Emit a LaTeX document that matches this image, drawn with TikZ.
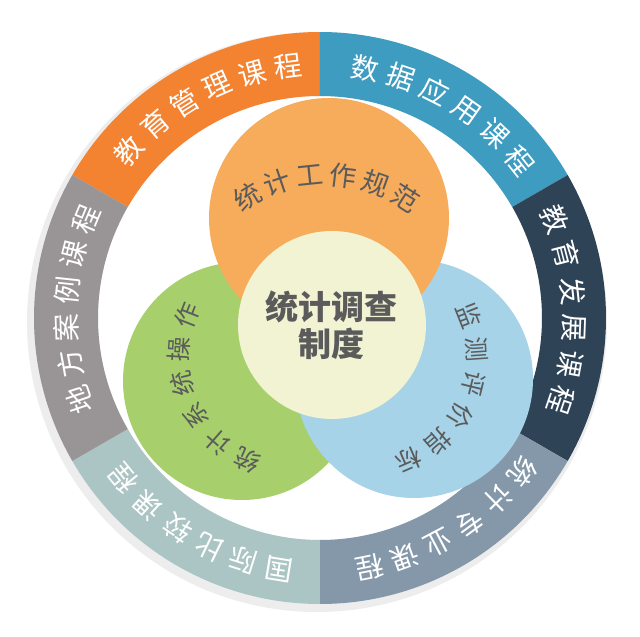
\documentclass[tikz,border=0pt]{standalone}
\usepackage{fontspec}
\newfontfamily\cjk{Noto Sans CJK SC}
\usetikzlibrary{calc}

\definecolor{ringorange}{HTML}{F38231}
\definecolor{ringblue}{HTML}{3E9CC1}
\definecolor{ringdark}{HTML}{2F4356}
\definecolor{ringslate}{HTML}{8498AA}
\definecolor{ringteal}{HTML}{ABC4C4}
\definecolor{ringgray}{HTML}{999596}
\definecolor{normfill}{HTML}{F7AC5C}
\definecolor{opsfill}{HTML}{A7D06D}
\definecolor{evalfill}{HTML}{A6D3E8}
\definecolor{corefill}{HTML}{F1F3D3}
\definecolor{inkgray}{HTML}{5B5B5B}

\begin{document}
\begin{tikzpicture}[x=1pt, y=1pt,
    ringtext/.style={text=white, font=\cjk\fontsize{28}{28}\selectfont, inner sep=0pt},
    innertext/.style={text=inkgray, font=\cjk\fontsize{27}{27}\selectfont, inner sep=0pt},
    sidetext/.style={innertext, font=\cjk\fontsize{25}{25}\selectfont},
    disc/.style={circle, inner sep=0pt, minimum size=238pt}
]
\useasboundingbox (-320,-319) rectangle (320,318);

% soft shadow and outer ring
\fill[black!7, even odd rule] (-3,-4) circle[radius=290pt] (0,0) circle[radius=222pt];
\foreach \s/\col in {90/ringorange, 30/ringblue, -30/ringdark, -90/ringslate, -150/ringteal, 150/ringgray}
  \fill[\col] (\s:286) arc[start angle=\s, delta angle=60, radius=286pt]
    -- ({\s+60}:222) arc[start angle=\s+60, delta angle=-60, radius=222pt] -- cycle;

\foreach \m/\nm/\txt in {118/mgmt/{教,育,管,理,课,程}, 59/data/{数,据,应,用,课,程},
    2/devt/{教,育,发,展,课,程}, -58/prof/{统,计,专,业,课,程},
    -120/intl/{国,际,比,较,课,程}, 178/locl/{地,方,案,例,课,程}}
  \foreach \ch [count=\i] in \txt
    \node[ringtext, rotate={\m+(3.5-\i)*8.3-90}] (\nm-\i) at ({\m+(3.5-\i)*8.3}:254) {\ch};

% three overlapping circles
\node[disc, fill=opsfill] (ops) at (-78,-63) {};
\node[disc, fill=evalfill] (eval) at (94,-61) {};
\node[disc, fill=normfill, minimum size=240pt] (norm) at (9,100) {};
\node[disc, fill=corefill, minimum size=188pt] (core) at (12,-7) {};

% curved labels
\coordinate (normarc) at (5,-6);
\coordinate (opsarc) at (-28,-39);
\coordinate (evalarc) at (44,-39);
\foreach \ch [count=\i] in {统,计,工,作,规,范}
  \node[innertext, rotate={89.5+(3.5-\i)*12.8-90}] (norm-\i)
    at ($(normarc)+({89.5+(3.5-\i)*12.8}:149)$) {\ch};
\foreach \ch [count=\i] in {统,计,系,统,操,作}
  \node[sidetext, rotate={202.5+(3.5-\i)*17.6-90}] (ops-\i)
    at ($(opsarc)+({202.5+(3.5-\i)*17.6}:113)$) {\ch};
\foreach \ch [count=\i] in {监,测,评,价,指,标}
  \node[sidetext, rotate={-22.5+(3.5-\i)*17.6-90}] (eval-\i)
    at ($(evalarc)+({-22.5+(3.5-\i)*17.6}:113)$) {\ch};

\node[align=center, text=inkgray, font=\cjk\bfseries\fontsize{33}{37}\selectfont] (coretext) at (core) {统计调查\\制度};

\end{tikzpicture}
\end{document}
